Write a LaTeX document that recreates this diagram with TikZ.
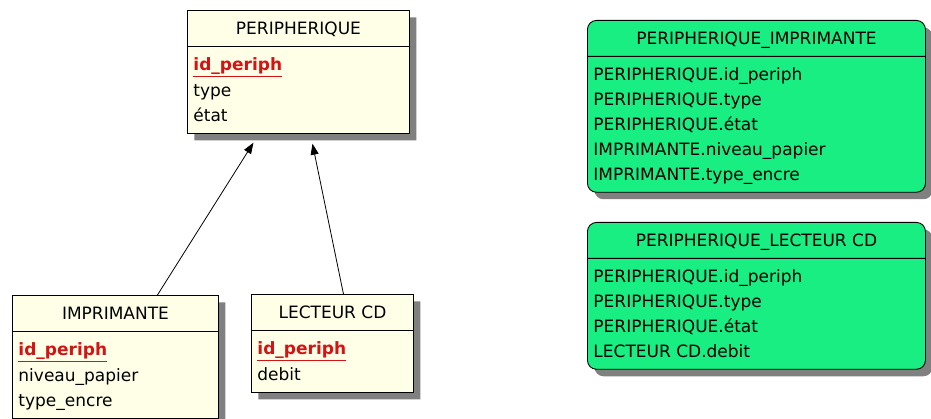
\documentclass[tikz,border=0pt]{standalone}
\usepackage{fontspec}
\setmainfont{DejaVu Sans}
\usetikzlibrary{shapes.multipart,shadows,arrows.meta}

\definecolor{creme}{RGB}{255,255,232}
\definecolor{vert}{RGB}{24,238,130}
\definecolor{rougecle}{RGB}{210,20,20}
\definecolor{ombre}{RGB}{128,128,128}

\newcommand{\ligne}{\rule[-6pt]{0pt}{25pt}}
\newcommand{\cle}[1]{\ligne{\color{rougecle}\bfseries\underline{#1}}}

\begin{document}
\begin{tikzpicture}[x=1pt, y=-1pt,
		tablebox/.style={draw, line width=0.9pt, fill=creme, rectangle split, rectangle split parts=2,
			rectangle split part align={center,left}, align=left, inner xsep=6pt, inner ysep=5pt,
			anchor=north west, font=\fontsize{17}{25}\selectfont,
			drop shadow={shadow xshift=7pt, shadow yshift=-7pt, fill=ombre, opacity=1}},
		vuebox/.style={tablebox, fill=vert, rounded corners=9pt},
		heritage/.style={-{Triangle[length=11pt,width=8pt]}, line width=0.8pt}]
		\useasboundingbox (0,0) rectangle (931,419);

		% テーブルを描画
		\node[tablebox, minimum width=222pt] (peri) at (187,10) {\ligne PERIPHERIQUE
			\nodepart{two} \cle{id\_periph}\\ \ligne type\\ \ligne état};
		\node[tablebox, minimum width=206pt] (imp) at (12,295) {\ligne IMPRIMANTE
			\nodepart{two} \cle{id\_periph}\\ \ligne niveau\_papier\\ \ligne type\_encre};
		\node[tablebox, minimum width=162pt] (lect) at (251,294) {\ligne LECTEUR CD
			\nodepart{two} \cle{id\_periph}\\ \ligne debit};

		% ビューを描画
		\node[vuebox, minimum width=338pt] (vimp) at (587,20) {\ligne PERIPHERIQUE\_IMPRIMANTE
			\nodepart{two} \ligne PERIPHERIQUE.id\_periph\\ \ligne PERIPHERIQUE.type\\ \ligne PERIPHERIQUE.état\\
			\ligne IMPRIMANTE.niveau\_papier\\ \ligne IMPRIMANTE.type\_encre};
		\node[vuebox, minimum width=338pt] (vlect) at (587,222) {\ligne PERIPHERIQUE\_LECTEUR CD
			\nodepart{two} \ligne PERIPHERIQUE.id\_periph\\ \ligne PERIPHERIQUE.type\\ \ligne PERIPHERIQUE.état\\
			\ligne LECTEUR CD.debit};

		% 継承の矢印
		\draw[heritage] ([xshift=42pt]imp.north) -- ([xshift=-45pt,yshift=-9pt]peri.south);
		\draw[heritage] ([xshift=11pt]lect.north) -- ([xshift=14pt,yshift=-10pt]peri.south);
	\end{tikzpicture}
\end{document}
